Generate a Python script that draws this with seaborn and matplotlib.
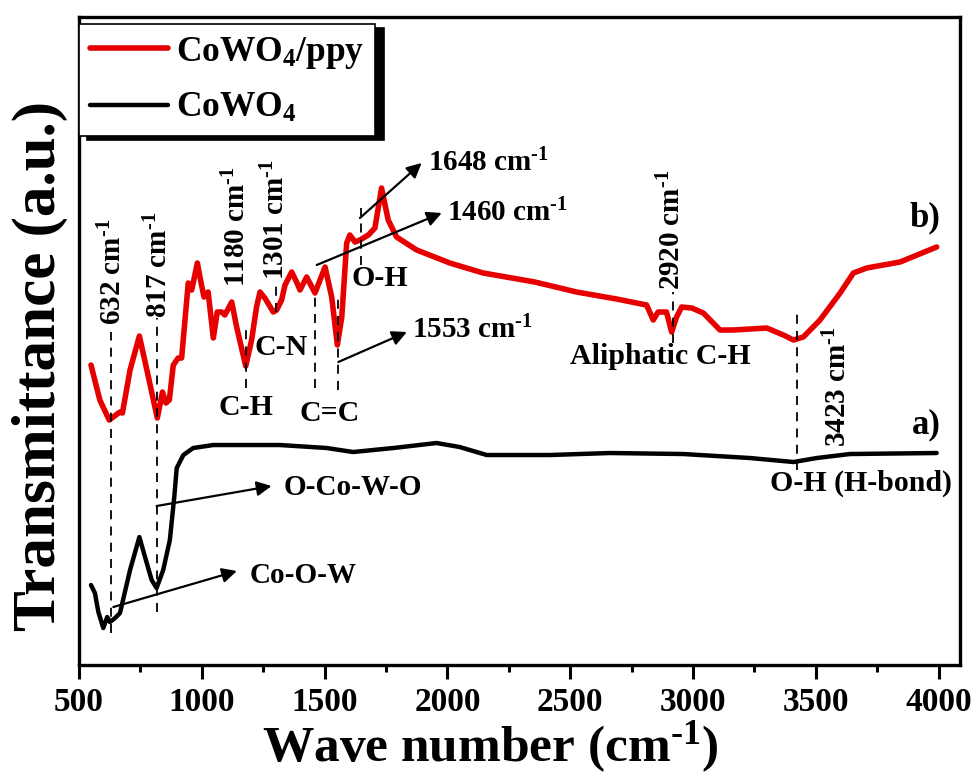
import numpy as np
import matplotlib.pyplot as plt
import seaborn as sns

# --- spectra (transmittance in arbitrary units) ---
wn_ppy = [549, 585, 623, 667, 677, 708, 746, 781, 819, 840, 854, 868, 884, 904, 918,
          945, 959, 982, 995, 1009, 1026, 1047, 1063, 1081, 1094, 1122, 1142, 1179,
          1203, 1223, 1237, 1257, 1291, 1305, 1325, 1339, 1366, 1386, 1400, 1427,
          1461, 1502, 1529, 1552, 1570, 1590, 1603, 1624, 1644, 1678, 1705, 1732,
          1759, 1793, 1875, 2010, 2146, 2356, 2526, 2689, 2811, 2838, 2858, 2892,
          2913, 2933, 2954, 2995, 3042, 3110, 3164, 3300, 3368, 3409, 3449, 3517,
          3599, 3653, 3707, 3843, 3992]
t_ppy = [300, 265, 245, 253, 252, 295, 329, 290, 247, 273, 262, 265, 300, 307, 307,
         382, 375, 402, 385, 368, 373, 327, 353, 353, 350, 363, 338, 299,
         325, 358, 373, 367, 353, 355, 365, 380, 393, 383, 375, 388,
         372, 398, 368, 320, 348, 422, 430, 423, 425, 430, 437, 477,
         445, 428, 415, 402, 392, 383, 373, 366, 360, 345, 353, 353,
         333, 348, 358, 357, 352, 335, 335, 337, 330, 325, 328, 345,
         372, 392, 397, 403, 418]

wn_cowo4 = [549, 565, 579, 599, 615, 626, 647, 667, 708, 746, 769, 796, 816, 843,
            870, 888, 898, 925, 965, 1047, 1318, 1509, 1616, 1780, 1956, 2050, 2160,
            2418, 2662, 2960, 3232, 3409, 3504, 3639, 3992]
t_cowo4 = [80, 72, 53, 37, 48, 43, 47, 52, 95, 128, 108, 85, 77, 95,
           125, 168, 197, 210, 217, 220, 220, 217, 213, 217, 222, 218, 210,
           210, 212, 211, 207, 203, 207, 211, 212]

# --- band markers ---
band_wn = [632, 817, 1180, 1301, 1460, 1553, 1648, 2920, 3423]
band_top = [333, 347, 335, 383, 372, 370, 457, 373, 352]
band_bot = [32, 53, 277, 353, 277, 275, 400, 322, 195]

vlabel_text = ['632', '817', '1180', '1301', '2920', '3423']
vlabel_x = [638, 826, 1143, 1302, 2915, 3590]
vlabel_y = [340, 347, 378, 385, 375, 218]

hlabel_text = ['C-H', 'C-N', 'C=C', 'O-H', 'Aliphatic C-H', 'O-H (H-bond)']
hlabel_x = [1180, 1322, 1522, 1726, 2866, 3684]
hlabel_y = [258, 318, 252, 387, 309, 182]

CM = r' cm$^{\text{-}1}$'
arrow_text = ['1648' + CM, '1460' + CM, '1553' + CM, 'O-Co-W-O', 'Co-O-W']
arrow_from = [(1644, 447), (1468, 400), (1556, 303), (816, 159), (640, 58)]
arrow_to = [(1895, 502), (1977, 452), (1835, 333), (1284, 179), (1143, 94)]
arrow_text_pos = [(1920, 502), (2000, 452), (1856, 335), (1334, 178), (1196, 90)]

sns.set_style('ticks')
plt.rcParams['font.family'] = ['Liberation Serif', 'DejaVu Serif']
plt.rcParams['font.weight'] = 'bold'
plt.rcParams['axes.labelweight'] = 'bold'
plt.rcParams['text.color'] = 'black'
plt.rcParams['axes.labelcolor'] = 'black'
plt.rcParams['axes.edgecolor'] = 'black'
plt.rcParams['xtick.color'] = 'black'
plt.rcParams['mathtext.fontset'] = 'custom'
plt.rcParams['mathtext.rm'] = 'Liberation Serif:bold'
plt.rcParams['mathtext.it'] = 'Liberation Serif:bold'
plt.rcParams['mathtext.bf'] = 'Liberation Serif:bold'
plt.rcParams['mathtext.default'] = 'rm'

fig = plt.figure(figsize=(9.76, 7.76), dpi=100)
ax = fig.add_axes([0.0809, 0.1430, 0.9027, 0.8351])

sns.lineplot(x=wn_ppy, y=t_ppy, color='#e60000', lw=4.0, ax=ax, label='CoWO$_4$/ppy')
sns.lineplot(x=wn_cowo4, y=t_cowo4, color='black', lw=3.2, ax=ax, label='CoWO$_4$')

ax.set_xlim(500, 4087)
ax.set_ylim(0, 648)
ax.set_xticks(np.arange(500, 4001, 500))
ax.set_xticks(np.arange(750, 4001, 500), minor=True)
ax.set_yticks([])
ax.tick_params(axis='x', which='major', length=10, width=2.2, direction='out',
               labelsize=24, pad=6)
ax.tick_params(axis='x', which='minor', length=5, width=2.2, direction='out')
for s in ax.spines.values():
    s.set_linewidth(2.4)
    s.set_visible(True)

ax.set_xlabel(r'Wave number (cm$^{\text{-}1}$)', fontsize=37)
ax.xaxis.set_label_coords(0.4665, -0.084)
ax.set_ylabel('Transmittance (a.u.)', fontsize=44)
ax.yaxis.set_label_coords(-0.0125, 0.461)

# dashed band markers
for x, y0, y1 in zip(band_wn, band_top, band_bot):
    ax.plot([x, x], [y1, y0], color='black', lw=1.3, ls=(0, (5, 4)))

for t, x, y in zip(vlabel_text, vlabel_x, vlabel_y):
    ax.text(x, y, t + CM, rotation=90, ha='center', va='bottom', fontsize=21)

for t, x, y in zip(hlabel_text, hlabel_x, hlabel_y):
    ax.text(x, y, t, ha='center', va='center', fontsize=21.5)

for t, p0, p1, pt in zip(arrow_text, arrow_from, arrow_to, arrow_text_pos):
    ax.annotate('', xy=p1, xytext=p0,
                arrowprops=dict(arrowstyle='-|>', color='black', lw=1.6, mutation_scale=22,
                                shrinkA=0, shrinkB=0))
    ax.text(pt[0], pt[1], t, ha='left', va='center', fontsize=21)

ax.text(3945, 447, 'b)', ha='center', va='center', fontsize=25)
ax.text(3949, 240, 'a)', ha='center', va='center', fontsize=25)

leg = ax.legend(loc='upper left', bbox_to_anchor=(0.0, 0.989), borderaxespad=0,
                fontsize=25.5, frameon=True, fancybox=False, framealpha=1,
                edgecolor='black', handlelength=2.2, handletextpad=0.25,
                borderpad=0.3, labelspacing=0.6,
                shadow={'ox': 6, 'oy': -3, 'color': 'black', 'alpha': 1})
leg.get_frame().set_linewidth(1.2)

fig.savefig('out.png', dpi=100)
